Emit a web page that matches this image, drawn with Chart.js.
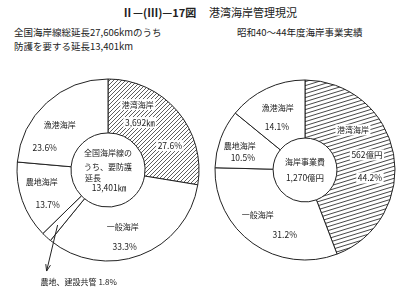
<!DOCTYPE html>
<html><head><meta charset="utf-8">
<script src="https://cdn.jsdelivr.net/npm/chart.js@4.4.0/dist/chart.umd.min.js"></script>
<style>
html,body{margin:0;padding:0;background:#fff;}
#wrap{position:relative;width:409px;height:292px;overflow:hidden;font-family:'Noto Sans CJK JP',sans-serif;color:#222;}
.t{position:absolute;white-space:nowrap;line-height:1;}
canvas{position:absolute;}
</style></head><body>
<div id="wrap">
  <div class="t" style="left:122px;top:7px;font-size:11px;font-weight:bold;">Ⅱ—(Ⅲ)—17図</div>
  <div class="t" style="left:209px;top:7px;font-size:11px;">港湾海岸管理現況</div>
  <div class="t" style="left:14px;top:28px;font-size:9.5px;">全国海岸線総延長27,606kmのうち</div>
  <div class="t" style="left:14px;top:42px;font-size:9.5px;">防護を要する延長13,401km</div>
  <div class="t" style="left:237px;top:28px;font-size:9.5px;">昭和40～44年度海岸事業実績</div>
  <canvas id="c1" width="216" height="222" style="left:0;top:70px"></canvas>
  <canvas id="c2" width="209" height="222" style="left:200px;top:70px"></canvas>
</div>
<script>
// ---- data ----
const leftCategories = ['港湾海岸', '一般海岸', '農地、建設共管', '農地海岸', '漁港海岸'];
const leftPercent = [27.6, 33.3, 1.8, 13.7, 23.6];
const leftPortLength = '3,692㎞';
const leftCenterText = ['全国海岸線の', 'うち、要防護', '延長', '13,401㎞'];

const rightCategories = ['港湾海岸', '一般海岸', '農地海岸', '漁港海岸'];
const rightPercent = [44.2, 31.2, 10.5, 14.1];
const rightPortCost = '562億円';
const rightCenterText = ['海岸事業費', '1,270億円'];

// ---- helpers ----
const FF = "'Noto Sans CJK JP', sans-serif";
const fJ = '8px ' + FF;
const fN = '8.5px ' + FF;
const pct = v => v.toFixed(1) + '%';

function hatch(w, h, lw) {
  const c = document.createElement('canvas');
  c.width = w; c.height = h;
  const g = c.getContext('2d');
  g.strokeStyle = '#333'; g.lineWidth = lw;
  for (let k = -1; k <= 1; k++) {
    g.beginPath();
    g.moveTo(-w, 2 * h + k * h);
    g.lineTo(2 * w, -h + k * h);
    g.stroke();
  }
  return g.createPattern(c, 'repeat');
}

function drawText(ctx, l, x, y) {
  ctx.font = l.font; ctx.textAlign = l.align || 'center';
  if (l.bg) {
    const w = ctx.measureText(l.text).width + 3;
    const h = 11;
    const left = (l.align === 'left') ? x - 1.5 : x - w / 2;
    ctx.save();
    ctx.fillStyle = '#fff';
    ctx.fillRect(left, y - h / 2, w, h);
    ctx.restore();
  }
  ctx.fillText(l.text, x, y);
}

const labelPlugin = {
  id: 'segLabels',
  afterDatasetsDraw(chart, args, opts) {
    const ctx = chart.ctx;
    const meta = chart.getDatasetMeta(0);
    ctx.save();
    ctx.fillStyle = '#222';
    ctx.strokeStyle = '#222';
    ctx.textBaseline = 'middle';
    (opts.items || []).forEach(it => {
      const arc = meta.data[it.index];
      const p = arc.getProps(['x', 'y', 'startAngle', 'endAngle', 'innerRadius', 'outerRadius'], true);
      const mid = (p.startAngle + p.endAngle) / 2;
      const r = (p.innerRadius + p.outerRadius) / 2;
      const ax = p.x + Math.cos(mid) * r, ay = p.y + Math.sin(mid) * r;
      it.lines.forEach(l => drawText(ctx, Object.assign({ bg: it.bg }, l), ax + l.dx, ay + l.dy));
    });
    if (opts.center) {
      const p = meta.data[0].getProps(['x', 'y'], true);
      opts.center.forEach(l => drawText(ctx, l, p.x + l.dx, p.y + l.dy));
    }
    if (opts.arrow) {
      const a = opts.arrow;
      const arc = meta.data[a.index];
      const p = arc.getProps(['x', 'y', 'startAngle', 'endAngle', 'outerRadius'], true);
      const mid = (p.startAngle + p.endAngle) / 2;
      const sx = p.x + Math.cos(mid) * p.outerRadius * a.r;
      const sy = p.y + Math.sin(mid) * p.outerRadius * a.r;
      const ex = sx + a.dx, ey = sy + a.dy;
      ctx.lineWidth = 1;
      ctx.beginPath(); ctx.moveTo(sx, sy); ctx.lineTo(ex, ey); ctx.stroke();
      const ang = Math.atan2(ey - sy, ex - sx);
      ctx.beginPath();
      ctx.moveTo(ex - 7 * Math.cos(ang - 0.35), ey - 7 * Math.sin(ang - 0.35));
      ctx.lineTo(ex, ey);
      ctx.lineTo(ex - 7 * Math.cos(ang + 0.35), ey - 7 * Math.sin(ang + 0.35));
      ctx.stroke();
      drawText(ctx, { text: a.text, font: a.font, align: 'left' }, ex + a.tdx, ey + a.tdy);
    }
    ctx.restore();
  }
};

function makeChart(id, labels, values, fills, radius, cutout, padding, labelOpts) {
  return new Chart(document.getElementById(id), {
    type: 'doughnut',
    data: {
      labels: labels,
      datasets: [{
        data: values,
        backgroundColor: fills,
        borderColor: '#222',
        borderWidth: 1,
        radius: radius,
        cutout: cutout
      }]
    },
    options: {
      responsive: false,
      animation: false,
      events: [],
      rotation: 0,
      radius: radius,
      cutout: cutout,
      layout: { padding: padding },
      plugins: {
        legend: { display: false },
        tooltip: { enabled: false },
        segLabels: labelOpts
      }
    },
    plugins: [labelPlugin]
  });
}

// ---- left chart ----
makeChart('c1', leftCategories, leftPercent,
  [hatch(4, 4, 0.8), '#fff', '#fff', '#fff', '#fff'],
  91, '40.7%', { bottom: 22 },
  {
    items: [
      { index: 0, bg: true, lines: [
        { text: leftCategories[0], dx: -19, dy: -24, font: fJ },
        { text: leftPortLength, dx: -17, dy: -6, font: fN },
        { text: pct(leftPercent[0]), dx: 13, dy: 17, font: fN } ] },
      { index: 1, lines: [
        { text: leftCategories[1], dx: -8, dy: -3, font: fJ },
        { text: pct(leftPercent[1]), dx: -6, dy: 17, font: fN } ] },
      { index: 3, lines: [
        { text: leftCategories[3], dx: -6, dy: -10, font: fJ },
        { text: pct(leftPercent[3]), dx: 0, dy: 13, font: fN } ] },
      { index: 4, lines: [
        { text: leftCategories[4], dx: -5, dy: 2, font: fJ },
        { text: pct(leftPercent[4]), dx: -20, dy: 25, font: fN } ] }
    ],
    center: [
      { text: leftCenterText[0], dx: 0, dy: -17, font: fJ },
      { text: leftCenterText[1], dx: 0, dy: -3, font: fJ },
      { text: leftCenterText[2], dx: -23, dy: 8, font: fJ, align: 'left' },
      { text: leftCenterText[3], dx: 1, dy: 18, font: fN }
    ],
    arrow: { index: 2, r: 0.82, dx: -11, dy: 46,
      text: leftCategories[2] + ' ' + pct(leftPercent[2]), tdx: -6, tdy: 11, font: fJ }
  });

// ---- right chart ----
makeChart('c2', rightCategories, rightPercent,
  [hatch(13, 4, 0.9), '#fff', '#fff', '#fff'],
  90, '35.5%', { left: 1, bottom: 22 },
  {
    items: [
      { index: 0, bg: true, lines: [
        { text: rightCategories[0], dx: -12, dy: -29, font: fJ },
        { text: rightPortCost, dx: 2, dy: -4, font: fN },
        { text: pct(rightPercent[0]), dx: 5, dy: 19, font: fN } ] },
      { index: 1, lines: [
        { text: rightCategories[1], dx: -12, dy: -5, font: fJ },
        { text: pct(rightPercent[1]), dx: 15, dy: 15, font: fN } ] },
      { index: 2, lines: [
        { text: rightCategories[2], dx: -8, dy: -3, font: fJ },
        { text: pct(rightPercent[2]), dx: -5, dy: 9, font: fN } ] },
      { index: 3, lines: [
        { text: rightCategories[3], dx: -1, dy: -7, font: fJ },
        { text: pct(rightPercent[3]), dx: -2, dy: 12, font: fN } ] }
    ],
    center: [
      { text: rightCenterText[0], dx: 0, dy: -8, font: fJ },
      { text: rightCenterText[1], dx: 0, dy: 8, font: fN }
    ]
  });
</script>
</body></html>
